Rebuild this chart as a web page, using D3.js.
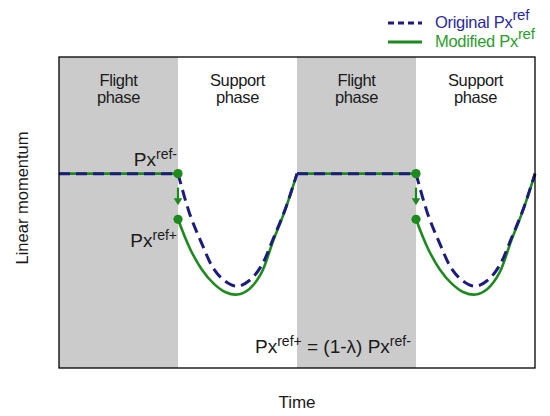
<!DOCTYPE html>
<html>
<head>
<meta charset="utf-8">
<script src="https://cdn.jsdelivr.net/npm/d3@7"></script>
<style>
  html, body { margin: 0; padding: 0; background: #fff; }
  svg { display: block; font-family: "Liberation Sans", Arial, Helvetica, sans-serif; }
</style>
</head>
<body>
<svg id="chart" width="550" height="416"></svg>
<script>
// Gait phases along the time axis (in units of one phase duration)
const phaseNames = ["Flight", "Support", "Flight", "Support"];
const phaseStarts = [0, 1, 2, 3];
const phaseLength = 1;

// Momentum level held during flight
const flatLevel = 1.0;

// Samples across one support phase (fraction of the phase)
const supportFrac      = [0, 0.1, 0.2, 0.3, 0.4, 0.5, 0.6, 0.7, 0.8, 0.9, 1.0];
const originalSupport  = [1.0, 0.79, 0.64, 0.51, 0.445, 0.42, 0.45, 0.525, 0.665, 0.815, 1.0];
const modifiedSupport  = [0.765, 0.615, 0.507, 0.434, 0.39, 0.378, 0.407, 0.488, 0.655, 0.812, 1.0];

// Reset value at touchdown: Px_ref+ = (1 - lambda) Px_ref-
const lambda = 0.235;

const navy = "#1c1c7c";
const green = "#1d8a1d";

const svg = d3.select("#chart");
const margin = { left: 59, top: 57, right: 15, bottom: 48 };
const W = 550, H = 416;

const x = d3.scaleLinear().domain([0, 4]).range([margin.left, W - margin.right]);
const y = d3.scaleLinear().domain([0, 1.6]).range([H - margin.bottom, margin.top]);

// Shaded flight phases
svg.append("g").selectAll("rect")
  .data(phaseStarts.filter((d, i) => phaseNames[i] === "Flight"))
  .join("rect")
  .attr("x", d => x(d))
  .attr("y", y(1.6))
  .attr("width", d => x(d + phaseLength) - x(d))
  .attr("height", y(0) - y(1.6))
  .attr("fill", "#cbcbcb");

// Phase titles
const titles = svg.append("g")
  .attr("font-size", 16.5)
  .attr("fill", "#1a1a1a")
  .attr("text-anchor", "middle")
  .attr("letter-spacing", -0.4);
phaseStarts.forEach((s, i) => {
  const cx = x(s + phaseLength / 2);
  titles.append("text").attr("x", cx).attr("y", 86).text(phaseNames[i]);
  titles.append("text").attr("x", cx).attr("y", 103).text("phase");
});

// Build line segments
const flightStarts = phaseStarts.filter((d, i) => phaseNames[i] === "Flight");
const supportStarts = phaseStarts.filter((d, i) => phaseNames[i] === "Support");

const flatLine = d3.line().x(d => x(d[0])).y(d => y(d[1]));
const curveLine = d3.line().x(d => x(d[0])).y(d => y(d[1])).curve(d3.curveCatmullRom.alpha(0.5));

function drawSeries(values, color, dash, width) {
  const g = svg.append("g")
    .attr("fill", "none")
    .attr("stroke", color)
    .attr("stroke-width", width)
    .attr("stroke-dasharray", dash);
  flightStarts.forEach(s => {
    g.append("path").attr("d", flatLine([[s, flatLevel], [s + phaseLength, flatLevel]]));
  });
  supportStarts.forEach(s => {
    const pts = supportFrac.map((f, i) => [s + f * phaseLength, values[i]]);
    g.append("path").attr("d", curveLine(pts));
  });
}

drawSeries(modifiedSupport, green, null, 2.6);
drawSeries(originalSupport, navy, "11,6", 3);

// Touchdown reset markers: dots and arrow
supportStarts.forEach(s => {
  const px = x(s);
  const yTop = y(flatLevel);
  const yBot = y(flatLevel * (1 - lambda));
  svg.append("line")
    .attr("x1", px).attr("x2", px)
    .attr("y1", yTop + 14).attr("y2", yBot - 20)
    .attr("stroke", green).attr("stroke-width", 2.2);
  svg.append("path")
    .attr("d", `M${px - 4.3},${yBot - 21} L${px + 4.3},${yBot - 21} L${px},${yBot - 14} Z`)
    .attr("fill", green);
  svg.append("circle").attr("cx", px).attr("cy", yTop).attr("r", 4.6).attr("fill", green);
  svg.append("circle").attr("cx", px).attr("cy", yBot).attr("r", 4.6).attr("fill", green);
});

// Annotations
function pxLabel(xPos, yPos, sup, anchor) {
  const t = svg.append("text")
    .attr("x", xPos).attr("y", yPos)
    .attr("font-size", 19)
    .attr("fill", "#1a1a1a")
    .attr("text-anchor", anchor);
  t.append("tspan").text("Px");
  t.append("tspan").attr("font-size", 14).attr("dy", -7).text(sup);
  return t;
}
pxLabel(x(1) - 1, y(flatLevel) - 8, "ref-", "end");
pxLabel(x(1) - 1, y(flatLevel * (1 - lambda)) + 28, "ref+", "end");

const eq = svg.append("text")
  .attr("x", 255).attr("y", 353)
  .attr("font-size", 19)
  .attr("fill", "#1a1a1a");
eq.append("tspan").text("Px");
eq.append("tspan").attr("font-size", 14).attr("dy", -7).text("ref+");
eq.append("tspan").attr("dy", 7).text(" = (1-\u03bb) Px");
eq.append("tspan").attr("font-size", 14).attr("dy", -7).text("ref-");

// Plot frame
svg.append("rect")
  .attr("x", x(0)).attr("y", y(1.6))
  .attr("width", x(4) - x(0)).attr("height", y(0) - y(1.6))
  .attr("fill", "none").attr("stroke", "#000").attr("stroke-width", 1.3);

// Axis titles
svg.append("text")
  .attr("transform", "translate(28,198) rotate(-90)")
  .attr("text-anchor", "middle")
  .attr("font-size", 16.5)
  .attr("fill", "#1a1a1a")
  .text("Linear momentum");
svg.append("text")
  .attr("x", (x(0) + x(4)) / 2).attr("y", 408)
  .attr("text-anchor", "middle")
  .attr("font-size", 17)
  .attr("fill", "#1a1a1a")
  .text("Time");

// Legend
const legendItems = [
  { label: "Original Px", color: navy, text: "#2a2a9c", dash: "6,4", y: 23 },
  { label: "Modified Px", color: green, text: "#2a9d2a", dash: null, y: 42 }
];
legendItems.forEach(d => {
  svg.append("line")
    .attr("x1", 388).attr("x2", 422)
    .attr("y1", d.y).attr("y2", d.y)
    .attr("stroke", d.color).attr("stroke-width", 2.8)
    .attr("stroke-dasharray", d.dash);
  const t = svg.append("text")
    .attr("x", 435).attr("y", d.y + 5)
    .attr("font-size", 16.5)
    .attr("letter-spacing", -0.3)
    .attr("fill", d.text);
  t.append("tspan").text(d.label);
  t.append("tspan").attr("font-size", 15).attr("dy", -8).text("ref");
});
</script>
</body>
</html>
